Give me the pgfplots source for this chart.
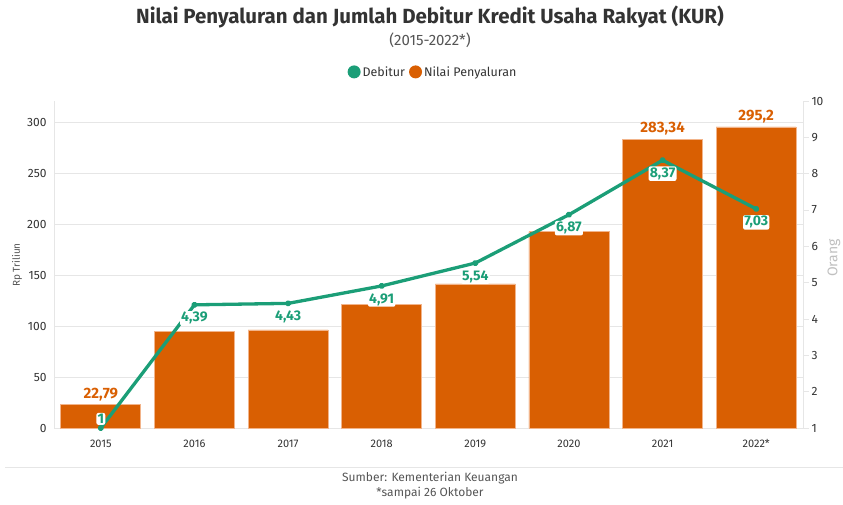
\documentclass[border=0pt]{standalone}
\usepackage{pgfplots}
\pgfplotsset{compat=1.18}
\usepackage{pgfplotstable}
\usepackage{fontspec}
\setmainfont{Fira Sans}
\definecolor{cgreen}{HTML}{1B9E77}
\definecolor{corange}{HTML}{D95F02}
\definecolor{cborder}{HTML}{F2B48A}
\definecolor{cgrid}{HTML}{E6E6E6}
\definecolor{ctext}{HTML}{333333}
\definecolor{csub}{HTML}{555555}

\pgfplotstableread{
x val lab
0 22.79 {22,79}
1 94.4 {}
2 96.1 {}
3 121.3 {}
4 141.2 {}
5 192.5 {}
6 283.34 {283,34}
7 295.2 {295,2}
}\bardata

\pgfplotstableread{
x deb lab
0 1 {1}
1 4.39 {4,39}
2 4.43 {4,43}
3 4.91 {4,91}
4 5.54 {5,54}
5 6.87 {6,87}
6 8.37 {8,37}
7 7.03 {7,03}
}\linedata

\begin{document}
\begin{tikzpicture}[x=1pt,y=1pt]
\useasboundingbox (0,0) rectangle (843,504);
\begin{axis}[
  at={(54pt,76pt)}, anchor=south west,
  scale only axis, width=749pt, height=327pt,
  xmin=-0.5, xmax=7.5, ymin=0, ymax=320.6,
  axis x line=none,
  axis y line*=left,
  y axis line style={draw=cgrid, line width=1pt, -},
  ytick={0,50,...,300},
  ymajorgrids, major grid style={draw=cgrid, line width=1pt},
  tick style={draw=none},
  yticklabel style={font=\fontsize{12}{12}\selectfont, color=ctext, xshift=-4pt},
  /pgf/number format/assume math mode=true,
  clip=false,
]
\addplot[ybar, bar width=0.855, fill=corange, draw=cborder, line width=0.7pt,
  nodes near coords, point meta=explicit symbolic,
  every node near coord/.append style={font=\bfseries\fontsize{15}{15}\selectfont, color=corange, anchor=south, yshift=0pt}]
  table[x=x, y=val, meta=lab] {\bardata};
\end{axis}
\begin{axis}[
  at={(54pt,76pt)}, anchor=south west,
  scale only axis, width=749pt, height=327pt,
  xmin=-0.5, xmax=7.5, ymin=1, ymax=10,
  axis x line*=bottom,
  x axis line style={draw=none},
  xtick={0,...,7},
  xticklabels={2015,2016,2017,2018,2019,2020,2021,2022*},
  xticklabel style={font=\fontsize{11}{11}\selectfont, color=ctext, yshift=-2pt},
  x tick style={draw=none},
  axis y line*=right,
  y axis line style={draw=cgrid, line width=1pt, -},
  ytick={1,...,10},
  y tick style={draw=cgrid, line width=1pt},
  tick align=outside, major tick length=6pt,
  yticklabel style={font=\fontsize{12}{12}\selectfont, color=ctext, xshift=-1pt},
  /pgf/number format/assume math mode=true,
  clip=false,
  legend columns=2,
  legend style={draw=none, fill=none, at={(0.506,1.089)}, anchor=center,
    font=\fontsize{12.5}{12.5}\selectfont, text=ctext,
    /tikz/every even column/.append style={column sep=2pt}},
  legend image code/.code={\fill[#1] (6pt,0pt) circle (6.5pt);},
]
\addlegendimage{fill=cgreen, draw=none}
\addlegendentry{Debitur}
\addlegendimage{fill=corange, draw=none}
\addlegendentry{Nilai Penyaluran}
\addplot[forget plot, cgreen, line width=3.3pt, mark=*, mark size=1.6pt, line join=round]
  table[x=x, y=deb] {\linedata};
\addplot[forget plot, draw=none, mark=none, restrict x to domain=1:7,
  nodes near coords, point meta=explicit symbolic,
  every node near coord/.append style={font=\bfseries\fontsize{14}{14}\selectfont, text=cgreen,
    fill=white, rounded corners=2pt, inner sep=1.2pt, anchor=north, yshift=-6pt}]
  table[x=x, y=deb, meta=lab] {\linedata};
\addplot[forget plot, draw=none, mark=none, restrict x to domain=0:0,
  nodes near coords, point meta=explicit symbolic,
  every node near coord/.append style={font=\bfseries\fontsize{14}{14}\selectfont, text=cgreen,
    fill=white, rounded corners=2pt, inner sep=1.2pt, anchor=south, yshift=3pt}]
  table[x=x, y=deb, meta=lab] {\linedata};
\end{axis}
\node[font=\bfseries\fontsize{20.5}{20.5}\selectfont, text=ctext] at (430,487) {Nilai Penyaluran dan Jumlah Debitur Kredit Usaha Rakyat (KUR)};
\node[font=\fontsize{15}{15}\selectfont, text=csub] at (430,464) {(2015-2022*)};
\node[font=\fontsize{10}{10}\selectfont, text=csub, rotate=90] at (17,239) {Rp Triliun};
\node[font=\fontsize{14}{14}\selectfont, text=black!25, rotate=90, inner sep=1pt] at (834,246) {Orang};
\draw[cgrid, line width=1pt] (5,37) -- (843,37);
\node[font=\fontsize{12}{12}\selectfont, text=csub] at (430,26) {Sumber: Kementerian Keuangan};
\node[font=\fontsize{12}{12}\selectfont, text=csub] at (430,11) {*sampai 26 Oktober};
\end{tikzpicture}
\end{document}
